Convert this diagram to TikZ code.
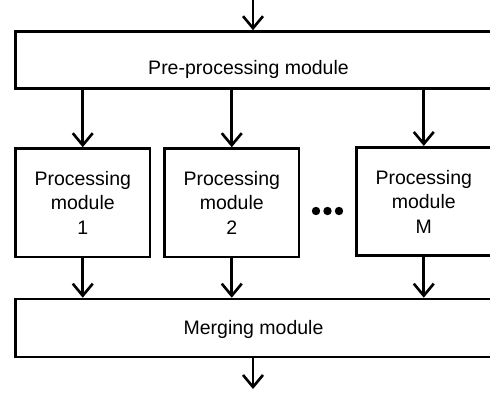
\documentclass[tikz,border=0pt]{standalone}
\usepackage{fontspec}
\setmainfont{Liberation Sans}
\usetikzlibrary{arrows.meta,positioning}

\begin{document}
\begin{tikzpicture}[x=1pt, y=-1pt,
    box/.style={draw=black, line width=2.6pt, fill=white, inner sep=0pt, align=center,
                font=\fontsize{19.5}{24.5}\selectfont},
    modlabel/.style={font=\fontsize{19.5}{24.5}\selectfont, text=black, anchor=base},
    flow/.style={line width=2.6pt, -{Straight Barb[length=12pt, width=20pt]}}
]
    \useasboundingbox (0,0) rectangle (490,394);
    \clip (0,0) rectangle (490,394);

    % Pre-processing stage (runs past the right edge)
    \node[box, minimum width=480pt, minimum height=57pt] (pre) at (255.5,60) {};
    \node[modlabel] (pre_txt) at (248.5,74) {Pre-processing module};

    % Processing modules
    \node[box, minimum width=134.5pt, minimum height=108.5pt] (mod1) at (82.75,202.75) {Processing\\module\\1};
    \node[box, minimum width=134.5pt, minimum height=108.5pt] (mod2) at (231.75,202.75) {Processing\\module\\2};
    \node[box, minimum width=134.5pt, minimum height=108.5pt] (modM) at (423.75,201.5) {Processing\\module\\M};

    \foreach \x in {316,327.5,339} {
        \fill[black] (\x,211) circle (4.2pt);
    }

    % Merging stage
    \node[box, minimum width=480pt, minimum height=58pt] (merge) at (255.5,328) {};
    \node[modlabel] (merge_txt) at (253.5,334) {Merging module};

    % Input and output
    \coordinate (in) at (253,0);
    \coordinate (out) at (253,389);

    \draw[flow] (in) -- (in |- pre.north);
    \foreach \m in {mod1, mod2, modM} {
        \draw[flow] (\m.north |- pre.south) -- (\m.north);
        \draw[flow] (\m.south) -- (\m.south |- merge.north);
    }
    \draw[flow] (out |- merge.south) -- (out);

\end{tikzpicture}
\end{document}
